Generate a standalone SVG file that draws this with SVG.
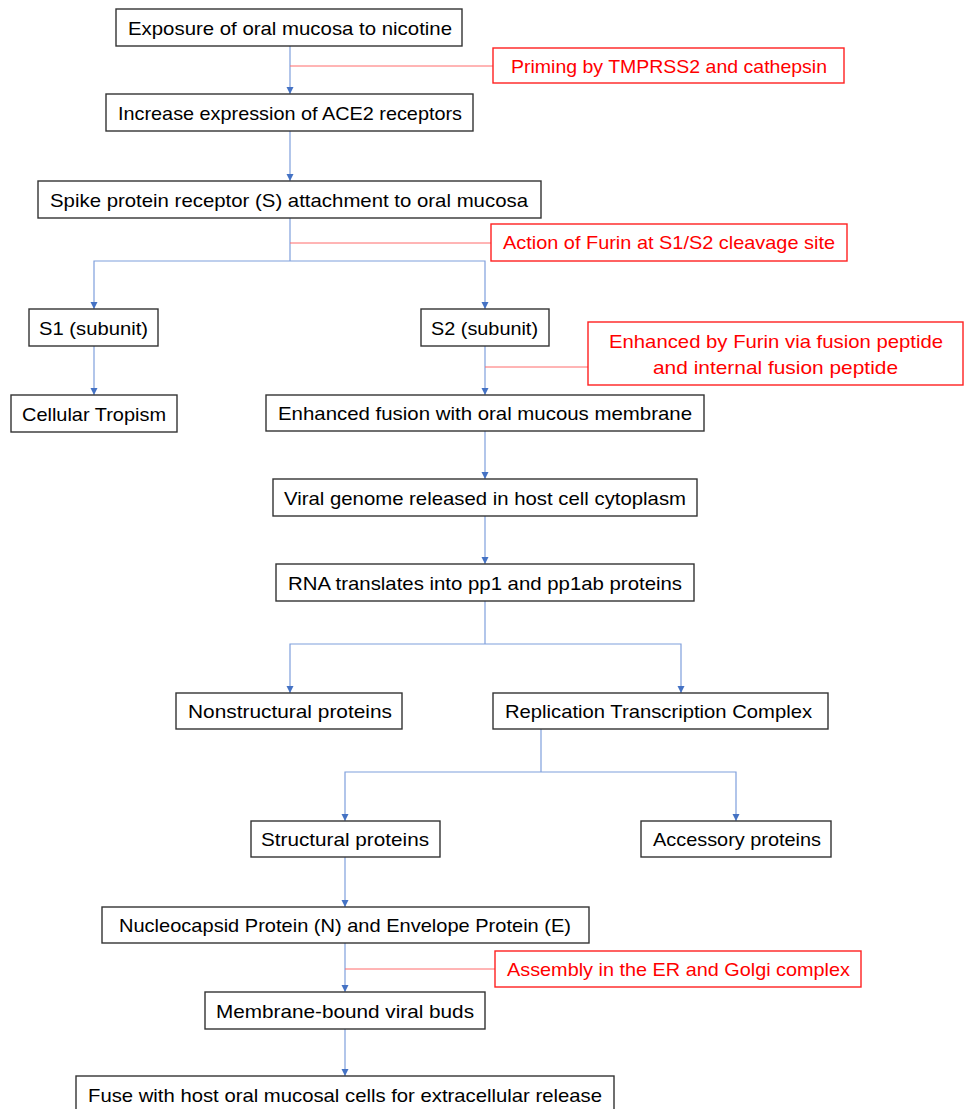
<svg xmlns="http://www.w3.org/2000/svg" width="965" height="1109" viewBox="0 0 965 1109">
<style>
.n rect{fill:#fff;stroke:#333;stroke-width:1.4}
.n text{font-family:"Liberation Sans",Arial,sans-serif;font-size:19px;fill:#000;text-anchor:middle}
.r rect{fill:#fff;stroke:#ff2020;stroke-width:1.4}
.r text{font-family:"Liberation Sans",Arial,sans-serif;font-size:19px;fill:#ff0000;text-anchor:middle}
.c path{fill:none;stroke:#7f9fdc;stroke-width:1.2}
.c path.a{marker-end:url(#ah)}
.c path.red{stroke:#ff6a6a;stroke-width:1}
</style>
<defs>
<marker id="ah" markerWidth="8" markerHeight="8" refX="7" refY="4" orient="auto" markerUnits="userSpaceOnUse">
<path d="M0,0.5 L7,4 L0,7.5 Z" fill="#4472c4"/>
</marker>
</defs>
<rect width="965" height="1109" fill="#fff"/>
<g id="connectors" class="c">
<path class="a" d="M290,46 V94"/>
<path class="red" d="M290,66 H493"/>
<path class="a" d="M290,131 V181"/>
<path d="M290,218 V261"/>
<path class="red" d="M290,243 H491"/>
<path class="a" d="M290,261 H94 V309"/>
<path class="a" d="M290,261 H485 V309"/>
<path class="a" d="M94,346 V395"/>
<path class="a" d="M485,346 V395"/>
<path class="red" d="M485,367 H588"/>
<path class="a" d="M485,431 V479"/>
<path class="a" d="M485,516 V564"/>
<path d="M485,601 V644"/>
<path class="a" d="M485,644 H290 V693"/>
<path class="a" d="M485,644 H681 V693"/>
<path d="M541,729 V772"/>
<path class="a" d="M541,772 H345 V821"/>
<path class="a" d="M541,772 H736 V821"/>
<path class="a" d="M345,857 V907"/>
<path class="a" d="M345,943 V992"/>
<path class="red" d="M345,969 H495"/>
<path class="a" d="M345,1029 V1076"/>
</g>
<g id="n1" class="n"><rect x="116" y="9" width="346" height="37"/><text x="290" y="35" textLength="324" lengthAdjust="spacingAndGlyphs">Exposure of oral mucosa to nicotine</text></g>
<g id="r1" class="r"><rect x="493" y="48" width="351" height="35"/><text x="669" y="73" textLength="316" lengthAdjust="spacingAndGlyphs">Priming by TMPRSS2 and cathepsin</text></g>
<g id="n2" class="n"><rect x="106" y="94" width="367" height="37"/><text x="290" y="120" textLength="344" lengthAdjust="spacingAndGlyphs">Increase expression of ACE2 receptors</text></g>
<g id="n3" class="n"><rect x="38" y="181" width="503" height="37"/><text x="289" y="207" textLength="478" lengthAdjust="spacingAndGlyphs">Spike protein receptor (S) attachment to oral mucosa</text></g>
<g id="r2" class="r"><rect x="491" y="224" width="356" height="37"/><text x="669" y="249" textLength="332" lengthAdjust="spacingAndGlyphs">Action of Furin at S1/S2 cleavage site</text></g>
<g id="n4" class="n"><rect x="29" y="309" width="129" height="37"/><text x="93.5" y="335" textLength="109" lengthAdjust="spacingAndGlyphs">S1 (subunit)</text></g>
<g id="n5" class="n"><rect x="421" y="309" width="128" height="37"/><text x="484.5" y="335" textLength="107" lengthAdjust="spacingAndGlyphs">S2 (subunit)</text></g>
<g id="r3" class="r"><rect x="588" y="322" width="375" height="63"/><text x="776" y="348" textLength="334" lengthAdjust="spacingAndGlyphs">Enhanced by Furin via fusion peptide</text><text x="775.5" y="374" textLength="245" lengthAdjust="spacingAndGlyphs">and internal fusion peptide</text></g>
<g id="n6" class="n"><rect x="11" y="395" width="166" height="37"/><text x="94" y="421" textLength="144" lengthAdjust="spacingAndGlyphs">Cellular Tropism</text></g>
<g id="n7" class="n"><rect x="266" y="395" width="438" height="36"/><text x="485" y="420" textLength="414" lengthAdjust="spacingAndGlyphs">Enhanced fusion with oral mucous membrane</text></g>
<g id="n8" class="n"><rect x="273" y="479" width="424" height="37"/><text x="485" y="505" textLength="402" lengthAdjust="spacingAndGlyphs">Viral genome released in host cell cytoplasm</text></g>
<g id="n9" class="n"><rect x="276" y="564" width="418" height="37"/><text x="485" y="590" textLength="394" lengthAdjust="spacingAndGlyphs">RNA translates into pp1 and pp1ab proteins</text></g>
<g id="n10" class="n"><rect x="176" y="693" width="226" height="36"/><text x="290" y="718" textLength="204" lengthAdjust="spacingAndGlyphs">Nonstructural proteins</text></g>
<g id="n11" class="n"><rect x="493" y="693" width="335" height="36"/><text x="658.5" y="718" textLength="307" lengthAdjust="spacingAndGlyphs">Replication Transcription Complex</text></g>
<g id="n12" class="n"><rect x="251" y="821" width="189" height="36"/><text x="345" y="846" textLength="168" lengthAdjust="spacingAndGlyphs">Structural proteins</text></g>
<g id="n13" class="n"><rect x="641" y="821" width="190" height="36"/><text x="737" y="846" textLength="168" lengthAdjust="spacingAndGlyphs">Accessory proteins</text></g>
<g id="n14" class="n"><rect x="102" y="907" width="487" height="36"/><text x="345" y="932" textLength="452" lengthAdjust="spacingAndGlyphs">Nucleocapsid Protein (N) and Envelope Protein (E)</text></g>
<g id="r4" class="r"><rect x="495" y="951" width="366" height="36"/><text x="678.5" y="976" textLength="343" lengthAdjust="spacingAndGlyphs">Assembly in the ER and Golgi complex</text></g>
<g id="n15" class="n"><rect x="205" y="992" width="280" height="37"/><text x="345" y="1018" textLength="258" lengthAdjust="spacingAndGlyphs">Membrane-bound viral buds</text></g>
<g id="n16" class="n"><rect x="76" y="1076" width="538" height="40"/><text x="345" y="1102" textLength="514" lengthAdjust="spacingAndGlyphs">Fuse with host oral mucosal cells for extracellular release</text></g>
</svg>
